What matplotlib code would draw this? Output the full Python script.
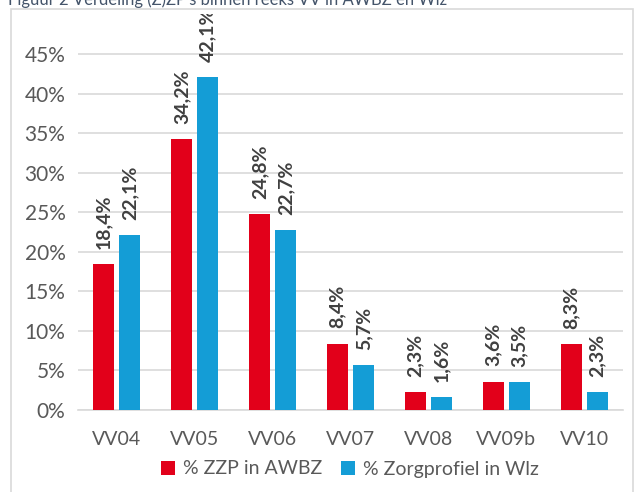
import matplotlib
matplotlib.use("Agg")
import matplotlib.pyplot as plt
from matplotlib.patches import Rectangle
import numpy as np

categories = ["VV04", "VV05", "VV06", "VV07", "VV08", "VV09b", "VV10"]
zzp_awbz = [18.4, 34.2, 24.8, 8.4, 2.3, 3.6, 8.3]
zorgprofiel_wlz = [22.1, 42.1, 22.7, 5.7, 1.6, 3.5, 2.3]
series_names = ["% ZZP in AWBZ", "% Zorgprofiel in Wlz"]
title = "Figuur 2 Verdeling (Z)ZP's binnen reeks VV in AWBZ en Wlz"

red = "#E2001A"
blue = "#149DD6"
textc = "#595959"

plt.rcParams['font.family'] = ['Lato', 'DejaVu Sans']

fig = plt.figure(figsize=(6.34, 4.92), dpi=100)
W, H = 634, 492
top_px = 14
ax = fig.add_axes([78 / W, 1 - 410 / H, 545 / W, (410 - top_px) / H])

x = np.arange(len(categories))
bw = 0.27
off = 0.167
vals1 = np.array(zzp_awbz) / 100
vals2 = np.array(zorgprofiel_wlz) / 100
b1 = ax.bar(x - off, vals1, bw, color=red, label=series_names[0], zorder=3)
b2 = ax.bar(x + off, vals2, bw, color=blue, label=series_names[1], zorder=3)

for xs, vs in ((x - off, zzp_awbz), (x + off, zorgprofiel_wlz)):
    for xi, v in zip(xs, vs):
        ax.annotate(f"{v:.1f}%".replace(".", ","), (xi, v / 100), xytext=(0, 11),
                    textcoords="offset points", rotation=90, ha="center", va="bottom",
                    fontsize=14, fontweight="bold", color="#404040",
                    annotation_clip=False, clip_on=True)

ax.set_xlim(-0.5, len(categories) - 0.5)
ax.set_ylim(0, 0.45 * (410 - top_px) / (410 - 54))
yt = np.arange(0, 0.46, 0.05)
ax.set_yticks(yt)
ax.set_yticklabels([f"{int(round(t * 100))}%" for t in yt], fontsize=15, color=textc)
ax.set_xticks(x)
ax.set_xticklabels(categories, fontsize=14, color=textc)
ax.tick_params(axis="both", length=0)
ax.tick_params(axis="y", pad=9)
ax.tick_params(axis="x", pad=15)
ax.grid(axis="y", color="#D9D9D9", linewidth=1.2, zorder=0)
ax.set_axisbelow(True)
for s in ["top", "right", "left"]:
    ax.spines[s].set_visible(False)
ax.spines["bottom"].set_color("#D9D9D9")
ax.spines["bottom"].set_linewidth(1.2)

leg = fig.legend(handles=[b1, b2], loc="center", bbox_to_anchor=(350 / W, 1 - 469 / H),
                 ncol=2, frameon=False, fontsize=14, handlelength=0.7, handleheight=0.7,
                 handletextpad=0.4, columnspacing=1.0)
for t in leg.get_texts():
    t.set_color(textc)

fig.patches.append(Rectangle((11 / W, -0.1), (633 - 11) / W, 1.1 - 9 / H,
                             transform=fig.transFigure, fill=False,
                             edgecolor="#D9D9D9", linewidth=1.2, zorder=0))
fig.text(8 / W, 1 - 5 / H, title, fontsize=12, color="#44546A", va="baseline", ha="left")

fig.savefig("out.png", dpi=100)
